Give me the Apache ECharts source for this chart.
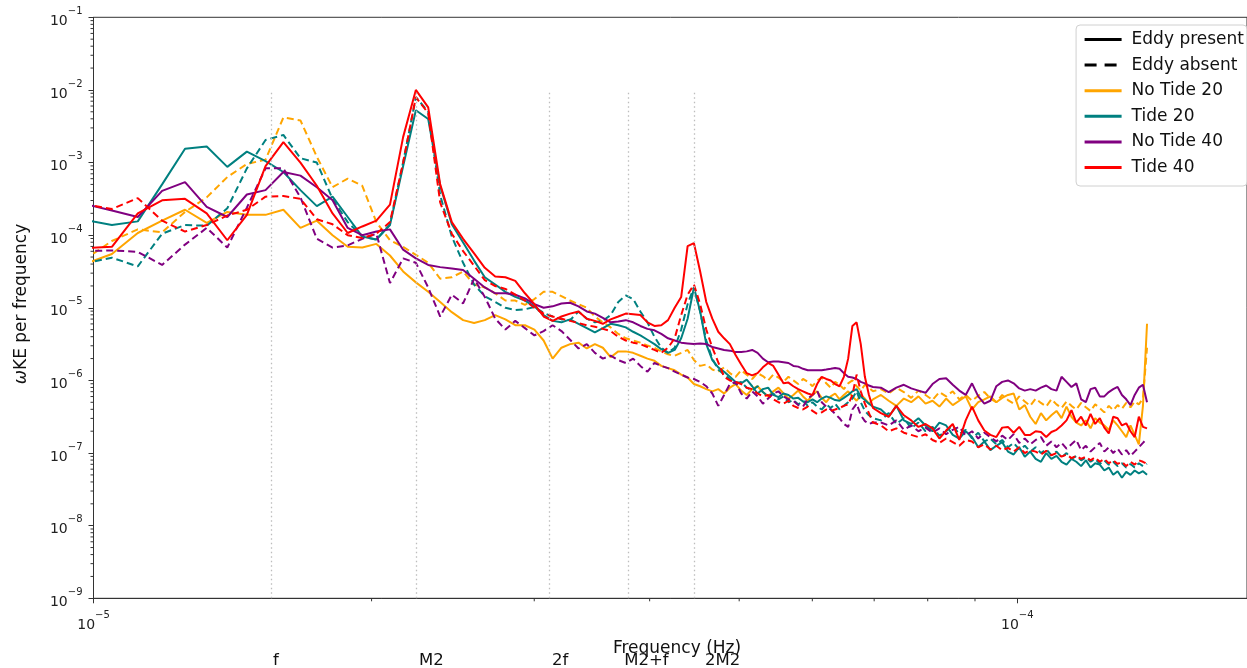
<!DOCTYPE html>
<html>
<head>
<meta charset="utf-8">
<title>Eddy / tide spectra</title>
<script src="https://cdn.jsdelivr.net/npm/echarts@6/dist/echarts.min.js"></script>
<style>
  html, body { margin: 0; padding: 0; background: #fff; }
  #chart { width: 1247px; height: 668px; }
</style>
</head>
<body>
<div id="chart"></div>
<script>
// frequency bins: n * df with df = 1 / (398 h); every bin up to 100, every 2nd above
const df = 1 / (398 * 3600);
const bins = [];
for (let n = 14; n <= 100; n++) bins.push(n);
for (let n = 102; n <= 198; n += 2) bins.push(n);

// log10(omega*KE per frequency), one value per bin
const noTide20Present = [
  -4.40, -4.26, -3.97, -3.80, -3.65, -3.83, -3.68, -3.72, -3.72, -3.65,
  -3.90, -3.80, -4.00, -4.16, -4.17, -4.12, -4.28, -4.50, -4.65, -4.78,
  -4.92, -5.06, -5.17, -5.21, -5.17, -5.10, -5.16, -5.24, -5.24, -5.30,
  -5.45, -5.70, -5.55, -5.50, -5.48, -5.56, -5.50, -5.55, -5.68, -5.60,
  -5.60, -5.62, -5.66, -5.70, -5.73, -5.80, -5.83, -5.86, -5.92, -5.96,
  -6.05, -6.08, -6.12, -6.15, -6.12, -6.18, -6.10, -6.05, -6.14, -6.20,
  -6.12, -6.08, -6.16, -6.22, -6.15, -6.10, -6.18, -6.25, -6.20, -6.14,
  -6.22, -6.28, -6.20, -6.15, -6.24, -6.30, -6.22, -6.18, -6.26, -6.20,
  -6.15, -6.22, -6.28, -6.20, -6.25, -6.32, -6.26,
  -6.20, -6.28, -6.35, -6.25, -6.30, -6.22, -6.32, -6.28, -6.36, -6.25,
  -6.34, -6.28, -6.22, -6.40, -6.30, -6.26, -6.22, -6.30, -6.24, -6.20,
  -6.18, -6.40, -6.34, -6.50, -6.60, -6.45, -6.55, -6.48, -6.42, -6.52,
  -6.36, -6.50, -6.58, -6.62, -6.55, -6.66, -6.52, -6.58, -6.62, -6.68,
  -6.55, -6.62, -6.70, -6.78, -6.62, -6.75, -6.88, -6.35, -5.22
];
const noTide20Absent = [
  -4.34, -4.08, -3.92, -3.96, -3.68, -3.48, -3.20, -3.02, -2.96, -2.38,
  -2.42, -2.92, -3.34, -3.22, -3.32, -3.82, -4.07, -4.16, -4.27, -4.38,
  -4.60, -4.58, -4.50, -4.68, -4.72, -4.80, -4.90, -4.90, -4.96, -4.88,
  -4.78, -4.78, -4.84, -4.90, -4.95, -5.00, -5.12, -5.20, -5.27, -5.36,
  -5.42, -5.45, -5.48, -5.52, -5.55, -5.60, -5.64, -5.66, -5.62, -5.58,
  -5.72, -5.80, -5.78, -5.85, -5.88, -5.82, -5.90, -5.95, -5.86, -5.92,
  -5.98, -5.90, -5.94, -6.00, -5.92, -5.96, -6.02, -5.95, -6.00, -6.05,
  -5.98, -6.02, -6.08, -6.00, -5.96, -6.04, -6.10, -6.02, -6.06, -6.12,
  -6.04, -6.00, -6.08, -6.14, -6.06, -6.10, -6.15,
  -6.12, -6.18, -6.10, -6.16, -6.24, -6.14, -6.20, -6.27, -6.16, -6.22,
  -6.15, -6.26, -6.20, -6.28, -6.21, -6.16, -6.25, -6.30, -6.20, -6.27,
  -6.32, -6.22, -6.29, -6.35, -6.25, -6.31, -6.36, -6.26, -6.33, -6.38,
  -6.29, -6.35, -6.40, -6.31, -6.37, -6.42, -6.33, -6.38, -6.44, -6.35,
  -6.41, -6.34, -6.39, -6.31, -6.37, -6.29, -6.33, -6.25, -5.55
];
const tide20Present = [
  -3.79, -3.86, -3.81, -3.30, -2.81, -2.78, -3.06, -2.85, -2.98, -3.13,
  -3.38, -3.60, -3.47, -3.75, -4.02, -4.06, -3.86, -3.05, -2.28, -2.40,
  -3.32, -3.85, -4.10, -4.35, -4.58, -4.68, -4.78, -4.85, -4.90, -4.98,
  -5.10, -5.18, -5.20, -5.16, -5.22, -5.28, -5.34, -5.28, -5.22, -5.24,
  -5.27, -5.33, -5.38, -5.44, -5.50, -5.57, -5.62, -5.58, -5.42, -5.15,
  -4.72, -5.05, -5.50, -5.72, -5.82, -5.88, -5.95, -6.02, -6.04, -5.99,
  -6.08, -6.18, -6.12, -6.10, -6.20, -6.23, -6.18, -6.20, -6.25, -6.24,
  -6.29, -6.30, -6.26, -6.30, -6.25, -6.22, -6.24, -6.27, -6.28, -6.24,
  -6.20, -6.15, -6.12, -6.22, -6.27, -6.32, -6.36,
  -6.40, -6.50, -6.35, -6.55, -6.60, -6.52, -6.62, -6.70, -6.58, -6.62,
  -6.75, -6.80, -6.70, -6.78, -6.92, -6.84, -6.96, -6.90, -6.85, -6.98,
  -7.02, -6.92, -7.05, -6.98, -7.08, -7.12, -7.00, -7.08, -7.04, -7.12,
  -7.16, -7.08, -7.12, -7.18, -7.10, -7.20, -7.14, -7.16, -7.24, -7.20,
  -7.30, -7.25, -7.34, -7.26, -7.30, -7.24, -7.28, -7.25, -7.30
];
const tide20Absent = [
  -4.39, -4.31, -4.43, -3.98, -3.86, -3.87, -3.63, -3.08, -2.69, -2.62,
  -2.94, -3.00, -3.50, -3.82, -4.02, -4.06, -3.85, -3.00, -2.10, -2.30,
  -3.45, -4.02, -4.38, -4.68, -4.84, -4.92, -5.00, -5.03, -5.02, -4.99,
  -5.07, -5.12, -5.16, -5.17, -5.05, -5.15, -5.20, -5.18, -5.10, -4.92,
  -4.83, -4.88, -5.05, -5.20, -5.40, -5.55, -5.62, -5.55, -5.30, -4.95,
  -4.72, -5.05, -5.45, -5.70, -5.85, -5.92, -5.98, -6.05, -6.02, -6.10,
  -6.14, -6.08, -6.16, -6.22, -6.18, -6.26, -6.22, -6.30, -6.27, -6.33,
  -6.28, -6.35, -6.30, -6.36, -6.40, -6.33, -6.38, -6.32, -6.40, -6.35,
  -6.30, -6.25, -6.15, -6.30, -6.42, -6.48, -6.52,
  -6.55, -6.45, -6.60, -6.52, -6.66, -6.58, -6.70, -6.64, -6.76, -6.70,
  -6.62, -6.74, -6.68, -6.80, -6.72, -6.84, -6.80, -6.88, -6.82, -6.92,
  -6.86, -6.95, -6.90, -6.98, -6.92, -7.00, -6.95, -7.03, -6.98, -7.06,
  -7.00, -7.08, -7.04, -7.10, -7.06, -7.12, -7.08, -7.15, -7.10, -7.16,
  -7.12, -7.18, -7.14, -7.20, -7.15, -7.20, -7.14, -7.18, -7.15
];
const noTide40Present = [
  -3.57, -3.66, -3.75, -3.39, -3.27, -3.61, -3.75, -3.44, -3.38, -3.13,
  -3.18, -3.34, -3.52, -3.90, -4.00, -3.95, -3.92, -4.20, -4.32, -4.41,
  -4.44, -4.46, -4.48, -4.60, -4.72, -4.80, -4.80, -4.82, -4.87, -4.95,
  -5.00, -4.98, -4.94, -4.93, -4.98, -5.05, -5.08, -5.14, -5.20, -5.19,
  -5.17, -5.20, -5.25, -5.29, -5.31, -5.36, -5.42, -5.45, -5.48, -5.49,
  -5.50, -5.49, -5.50, -5.54, -5.56, -5.58, -5.59, -5.61, -5.61, -5.60,
  -5.58, -5.62, -5.70, -5.75, -5.74, -5.74, -5.75, -5.76, -5.80, -5.81,
  -5.84, -5.86, -5.86, -5.86, -5.86, -5.85, -5.84, -5.83, -5.84, -5.90,
  -5.95, -5.96, -5.98, -6.02, -6.04, -6.07, -6.09,
  -6.10, -6.16, -6.10, -6.06, -6.11, -6.14, -6.17, -6.05, -5.98, -5.97,
  -6.06, -6.14, -6.20, -6.04, -6.22, -6.32, -6.28, -6.08, -6.02, -6.00,
  -6.04, -6.11, -6.14, -6.12, -6.14, -6.10, -6.07, -6.12, -6.14, -5.95,
  -6.02, -6.09, -6.04, -6.26, -6.30, -6.12, -6.10, -6.22, -6.22, -6.16,
  -6.12, -6.09, -6.20, -6.26, -6.34, -6.20, -6.10, -6.06, -6.30
];
const noTide40Absent = [
  -4.22, -4.21, -4.23, -4.41, -4.13, -3.90, -4.17, -3.62, -3.08, -3.08,
  -3.48, -4.05, -4.17, -4.14, -4.05, -3.98, -4.66, -4.32, -4.38, -4.72,
  -5.12, -4.82, -4.94, -4.60, -4.85, -5.15, -5.30, -5.18, -5.28, -5.38,
  -5.32, -5.24, -5.32, -5.44, -5.56, -5.50, -5.62, -5.70, -5.66, -5.72,
  -5.76, -5.70, -5.80, -5.88, -5.76, -5.80, -5.83, -5.88, -5.92, -5.96,
  -5.98, -6.02, -6.08, -6.18, -6.35, -6.20, -6.05, -6.02, -6.18, -6.25,
  -6.15, -6.22, -6.32, -6.25, -6.18, -6.15, -6.22, -6.26, -6.28, -6.34,
  -6.36, -6.25, -6.20, -6.14, -6.30, -6.36, -6.40, -6.46, -6.52, -6.60,
  -6.64, -6.40, -6.32, -6.48, -6.56, -6.60, -6.58,
  -6.58, -6.62, -6.55, -6.68, -6.62, -6.70, -6.65, -6.72, -6.66, -6.74,
  -6.68, -6.64, -6.76, -6.70, -6.80, -6.72, -6.78, -6.84, -6.76, -6.82,
  -6.74, -6.86, -6.80, -6.88, -6.82, -6.78, -6.90, -6.84, -6.92, -6.86,
  -6.94, -6.88, -6.82, -6.96, -6.90, -6.98, -6.92, -6.86, -6.98, -6.92,
  -7.00, -6.94, -7.02, -6.96, -7.04, -6.98, -6.92, -6.86, -6.80
];
const tide40Present = [
  -4.18, -4.16, -3.70, -3.52, -3.50, -3.70, -4.07, -3.72, -3.05, -2.72,
  -3.00, -3.32, -3.70, -3.97, -3.88, -3.80, -3.58, -2.65, -2.00, -2.24,
  -3.30, -3.82, -4.05, -4.25, -4.45, -4.57, -4.58, -4.63, -4.80, -4.95,
  -5.12, -5.18, -5.12, -5.08, -5.05, -5.15, -5.18, -5.22, -5.16, -5.12,
  -5.08, -5.09, -5.10, -5.20, -5.25, -5.24, -5.17, -5.00, -4.85, -4.15,
  -4.11, -4.50, -4.92, -5.15, -5.33, -5.42, -5.50, -5.65, -5.78, -5.90,
  -5.93, -5.90, -5.82, -5.76, -5.80, -5.92, -6.04, -6.03, -6.08, -6.12,
  -6.15, -6.18, -6.20, -6.05, -5.95, -5.98, -6.00, -6.05, -6.08, -5.95,
  -5.70, -5.25, -5.20, -5.50, -5.95, -6.20, -6.38,
  -6.45, -6.50, -6.35, -6.48, -6.55, -6.64, -6.60, -6.66, -6.80, -6.69,
  -6.60, -6.82, -6.55, -6.36, -6.55, -6.69, -6.75, -6.78, -6.65, -6.64,
  -6.72, -6.64, -6.75, -6.75, -6.70, -6.71, -6.78, -6.71, -6.68, -6.62,
  -6.55, -6.41, -6.58, -6.50, -6.62, -6.46, -6.60, -6.52, -6.65, -6.73,
  -6.50, -6.52, -6.62, -6.59, -6.70, -6.78, -6.50, -6.64, -6.66
];
const tide40Absent = [
  -3.57, -3.64, -3.49, -3.80, -3.95, -3.86, -3.73, -3.65, -3.47, -3.46,
  -3.50, -3.78, -3.85, -4.00, -4.04, -3.98, -3.82, -3.00, -2.10, -2.32,
  -3.55, -3.98, -4.22, -4.42, -4.62, -4.70, -4.74, -4.82, -4.90, -5.00,
  -5.08, -5.12, -5.15, -5.18, -5.21, -5.24, -5.26, -5.29, -5.32, -5.40,
  -5.45, -5.48, -5.50, -5.54, -5.58, -5.62, -5.55, -5.42, -5.10, -4.82,
  -4.68, -4.95, -5.30, -5.55, -5.75, -5.95, -6.00, -6.02, -6.05, -6.10,
  -6.12, -6.18, -6.22, -6.20, -6.26, -6.30, -6.32, -6.28, -6.35, -6.38,
  -6.40, -6.36, -6.42, -6.46, -6.44, -6.40, -6.42, -6.40, -6.38, -6.35,
  -6.33, -6.20, -5.92, -6.15, -6.32, -6.45, -6.58,
  -6.62, -6.70, -6.66, -6.72, -6.75, -6.78, -6.74, -6.82, -6.86, -6.80,
  -6.85, -6.90, -6.82, -6.84, -6.92, -6.88, -6.95, -6.90, -6.96, -6.93,
  -6.98, -6.92, -7.00, -6.96, -6.98, -7.02, -6.97, -7.03, -7.00, -7.05,
  -7.02, -7.07, -7.04, -7.08, -7.05, -7.10, -7.06, -7.12, -7.08, -7.14,
  -7.10, -7.15, -7.12, -7.18, -7.12, -7.16, -7.10, -7.12, -7.15
];

// tidal / inertial reference frequencies (Hz)
const tidalNames = ['f', 'M2', '2f', 'M2+f', '2M2'];
const tidalFreqs = [1.5564e-5, 2.2366e-5, 3.1128e-5, 3.793e-5, 4.4732e-5];
const tidalLabelShift = [5, 15, 11, 18, 28];

const runs = [
  { name: 'No Tide 20', color: '#ffa500', present: noTide20Present, absent: noTide20Absent },
  { name: 'Tide 20', color: '#008080', present: tide20Present, absent: tide20Absent },
  { name: 'No Tide 40', color: '#800080', present: noTide40Present, absent: noTide40Absent },
  { name: 'Tide 40', color: '#ff0000', present: tide40Present, absent: tide40Absent }
];

const FONT = 'DejaVu Sans';
// decade labels as 10 with a raised exponent
function powLabel(v) {
  const lg = Math.log10(v);
  const e = Math.round(lg);
  if (Math.abs(lg - e) > 1e-6) return '';
  return '{b|10}{s|' + String(e).replace('-', '\u2212') + '}';
}
const powRich = {
  b: { fontFamily: FONT, fontSize: 14, color: '#222', lineHeight: 22, verticalAlign: 'bottom' },
  s: { fontFamily: FONT, fontSize: 10, color: '#222', lineHeight: 22, verticalAlign: 'top' }
};
const toPoints = lg => bins.map((n, i) => [n * df, Math.pow(10, lg[i])]);

const minorX = [];
for (let m = 2; m <= 9; m++) minorX.push(m * 1e-5);
const minorY = [];
for (let e = -9; e <= -2; e++) for (let m = 2; m <= 9; m++) minorY.push(m * Math.pow(10, e));

const series = [
  {
    name: 'tidal', type: 'line', data: [], symbol: 'none', silent: true, z: 1,
    markLine: {
      silent: true, symbol: 'none', label: { show: false }, animation: false,
      lineStyle: { color: '#bdbdbd', width: 1.3, type: [1.5, 3] },
      data: tidalFreqs.map(f => [{ coord: [f, 1e-9] }, { coord: [f, 1e-2] }])
    }
  },
  { name: 'Eddy present', type: 'line', data: [], symbol: 'none',
    lineStyle: { color: '#000', width: 3 }, itemStyle: { color: '#000' } },
  { name: 'Eddy absent', type: 'line', data: [], symbol: 'none',
    lineStyle: { color: '#000', width: 3, type: [12, 8] }, itemStyle: { color: '#000' } }
];
runs.forEach(r => {
  series.push({
    name: r.name, type: 'line', data: toPoints(r.present), symbol: 'none', z: 3,
    lineStyle: { color: r.color, width: 2 }, itemStyle: { color: r.color }
  });
  series.push({
    name: r.name + ' (eddy absent)', type: 'line', data: toPoints(r.absent), symbol: 'none', z: 3,
    lineStyle: { color: r.color, width: 2, type: [7, 4] }, itemStyle: { color: r.color }
  });
});
series.push({
  type: 'custom', silent: true, clip: false, z: 6,
  data: minorX.map(v => [v, 1e-9]),
  renderItem: (params, api) => {
    const p = api.coord([api.value(0), api.value(1)]);
    return { type: 'line', shape: { x1: p[0], y1: p[1], x2: p[0], y2: p[1] + 3 },
      style: { stroke: '#333', lineWidth: 1 } };
  }
});
series.push({
  type: 'custom', silent: true, clip: false, z: 6,
  data: minorY.map(v => [1e-5, v]),
  renderItem: (params, api) => {
    const p = api.coord([api.value(0), api.value(1)]);
    return { type: 'line', shape: { x1: p[0], y1: p[1], x2: p[0] - 3, y2: p[1] },
      style: { stroke: '#333', lineWidth: 1 } };
  }
});

const option = {
  animation: false,
  backgroundColor: '#fff',
  grid: { left: 93.5, right: -7, top: 17.3, bottom: 69.7, show: true, borderColor: '#333', borderWidth: 1 },
  xAxis: {
    type: 'log', logBase: 10, min: 1e-5, max: 1.773e-4,
    axisLine: { show: true, lineStyle: { color: '#333', width: 1 } },
    axisTick: { show: true, length: 5, lineStyle: { color: '#333' } },
    axisLabel: { margin: 12, showMaxLabel: false, formatter: powLabel, rich: powRich },
    splitLine: { show: false }
  },
  yAxis: {
    type: 'log', logBase: 10, min: 1e-9, max: 1e-1, splitNumber: 8,
    axisLine: { show: true, lineStyle: { color: '#333', width: 1 } },
    axisTick: { show: true, length: 5, lineStyle: { color: '#333' } },
    axisLabel: { margin: 11, formatter: powLabel, rich: powRich },
    splitLine: { show: false }
  },
  legend: {
    data: ['Eddy present', 'Eddy absent', 'No Tide 20', 'Tide 20', 'No Tide 40', 'Tide 40'],
    orient: 'vertical', right: 0, top: 25,
    padding: [6, 3, 10, 7], itemWidth: 37, itemHeight: 18, itemGap: 8.6,
    backgroundColor: 'rgba(255,255,255,0.85)', borderColor: '#d0d0d0', borderWidth: 1, borderRadius: 4,
    textStyle: { fontFamily: FONT, fontSize: 17, color: '#111', padding: [0, 0, 0, 5] },
    lineStyle: { width: 3 },
    itemStyle: { opacity: 0, color: 'rgba(0,0,0,0)', borderWidth: 0 },
    selectedMode: false
  },
  series: series
};

const chart = echarts.init(document.getElementById('chart'), null, { renderer: 'canvas' });
chart.setOption(option);

// axis titles and the tidal-frequency captions under the axis
const graphics = [
  { type: 'text', x: 22, y: 304, rotation: Math.PI / 2,
    style: { text: '{w|\u03c9}KE per frequency', fontFamily: FONT, fontSize: 17, fill: '#111',
      align: 'center', verticalAlign: 'middle', textAlign: 'center', textVerticalAlign: 'middle',
      rich: { w: { fontStyle: 'italic', fontFamily: FONT, fontSize: 17 } } } },
  { type: 'text', x: 677, y: 649,
    style: { text: 'Frequency (Hz)', fontFamily: FONT, fontSize: 17, fill: '#111',
      align: 'center', verticalAlign: 'middle', textAlign: 'center', textVerticalAlign: 'middle' } }
];
tidalFreqs.forEach((f, i) => {
  const px = chart.convertToPixel({ xAxisIndex: 0 }, f);
  graphics.push({ type: 'text', x: px + tidalLabelShift[i], y: 661,
    style: { text: tidalNames[i], fontFamily: FONT, fontSize: 16.5, fill: '#111',
      align: 'center', verticalAlign: 'middle', textAlign: 'center', textVerticalAlign: 'middle' } });
});
chart.setOption({ graphic: graphics });
</script>
</body>
</html>
